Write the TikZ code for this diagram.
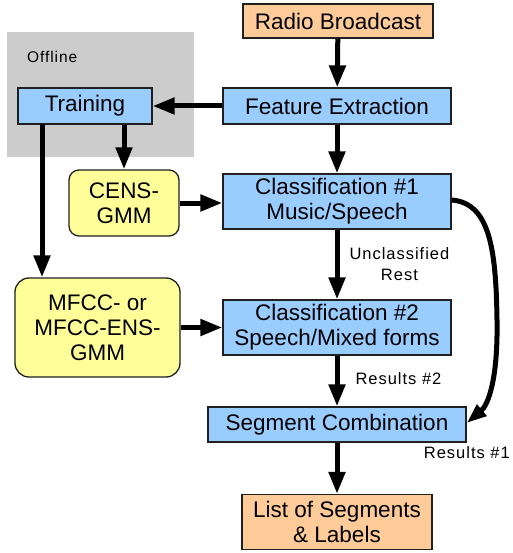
\documentclass[tikz,border=0pt]{standalone}
\usepackage{fontspec}
\setmainfont{Liberation Sans}
\newfontfamily\lblfont[LetterSpace=6]{Liberation Sans}
\usetikzlibrary{arrows.meta}
\definecolor{peach}{HTML}{FFCC99}
\definecolor{skyb}{HTML}{99CCFF}
\definecolor{lyellow}{HTML}{FFFF99}
\definecolor{offgray}{HTML}{CCCCCC}
\definecolor{edge}{HTML}{202020}
\tikzset{
  box/.style={draw=edge, line width=1.3pt, inner sep=0pt, align=center,
    font=\fontsize{22.5}{25}\selectfont},
  bluebox/.style={box, fill=skyb},
  orangebox/.style={box, fill=peach},
  gmmbox/.style={box, fill=lyellow, rounded corners=10pt},
  arr/.style={line width=5pt, -{Triangle[length=22pt,width=16pt]}},
  lbl/.style={font=\lblfont\fontsize{16.5}{21}\selectfont, inner sep=0pt, align=center},
}
\begin{document}
\begin{tikzpicture}[x=1pt,y=-1pt]
\useasboundingbox (0,0) rectangle (512,553);
\fill[offgray] (7,32) rectangle (194,157);
\node[lbl, anchor=base west, font=\lblfont\fontsize{15.5}{20}\selectfont] (offline) at (27,63) {Offline};

\node[orangebox, minimum width=190pt, minimum height=34pt] (radio) at (338,21) {Radio Broadcast};
\node[bluebox, minimum width=228pt, minimum height=36pt] (fe) at (337,106) {Feature Extraction};
\node[bluebox, minimum width=228pt, minimum height=55pt] (c1) at (337,201.5) {Classification \#1\\Music/Speech};
\node[bluebox, minimum width=228pt, minimum height=55pt] (c2) at (337,327.5) {Classification \#2\\Speech/Mixed forms};
\node[bluebox, minimum width=258pt, minimum height=35pt] (seg) at (337,424.5) {Segment Combination};
\node[orangebox, minimum width=190pt, minimum height=55pt] (list) at (337,522) {List of Segments\\\& Labels};
\node[bluebox, minimum width=134pt, minimum height=36pt] (train) at (85,106) {Training};
\node[gmmbox, minimum width=110pt, minimum height=66pt] (cens) at (124,203) {CENS-\\GMM};
\node[gmmbox, minimum width=165pt, minimum height=99pt, rounded corners=14pt] (mfcc) at (97.5,327.5) {MFCC- or\\MFCC-ENS-\\GMM};

\draw[arr] (radio) -- (fe);
\draw[arr] (fe) -- (c1);
\draw[arr] (fe) -- (train);
\draw[arr] (train.south -| cens.north) -- (cens.north);
\coordinate (tdown) at (42,124);
\draw[arr] (tdown) -- (tdown |- mfcc.north);
\draw[arr] (cens) -- (cens -| c1.west);
\draw[arr] (mfcc) -- (mfcc -| c2.west);
\draw[arr] (c1) -- (c2) node[lbl, pos=0.5, right=0pt, xshift=10pt] (uncl) {Unclassified\\Rest};
\draw[arr] (c2) -- (seg) node[lbl, pos=0.45, anchor=west, xshift=16pt] (res2) {Results \#2};
\draw[arr] (seg) -- (list);
\coordinate (cstart) at (c1.east |- 0,200);
\coordinate (cend) at (seg.east |- 0,423);
\draw[line width=5pt, -{Triangle[length=20pt,width=14pt]}]
  (cstart) .. controls (490,203) and (496,250) .. (497,320)
  .. controls (498,380) and (488,405) .. (cend);
\node[lbl, anchor=base east] (res1) at (510,458) {Results \#1};
\end{tikzpicture}
\end{document}
